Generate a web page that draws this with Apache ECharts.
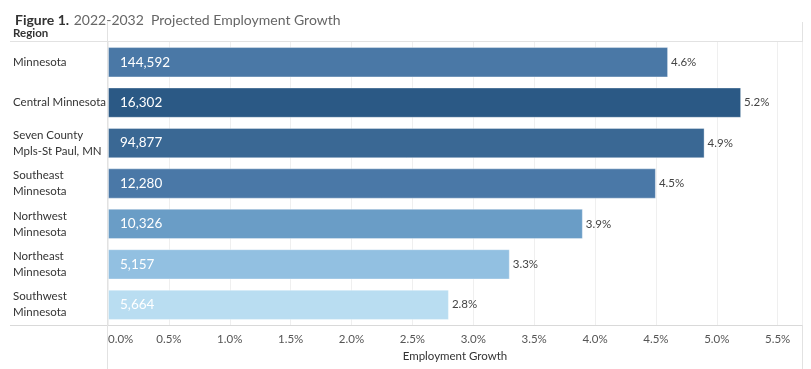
<!DOCTYPE html>
<html><head><meta charset="utf-8">
<script src="https://cdn.jsdelivr.net/npm/echarts@6/dist/echarts.min.js"></script>
<style>html,body{margin:0;padding:0;background:#fff}#c{width:811px;height:369px}</style>
</head><body><div id="c"></div>
<script>
const regions = ["Minnesota","Central Minnesota","Seven County\nMpls-St Paul, MN","Southeast\nMinnesota","Northwest\nMinnesota","Northeast\nMinnesota","Southwest\nMinnesota"];
const growthPct = [4.6, 5.2, 4.9, 4.5, 3.9, 3.3, 2.8];
const jobsAdded = ["144,592","16,302","94,877","12,280","10,326","5,157","5,664"];
const barColors = ["#4a78a6","#2b5985","#3a6894","#4a78a7","#6a9dc6","#92c0e1","#b9ddf1"];
const xTicks = [0,0.5,1,1.5,2,2.5,3,3.5,4,4.5,5,5.5];

const FONT = 'Lato, "Noto Sans", sans-serif';
const chart = echarts.init(document.getElementById('c'));
chart.setOption({
  animation:false,
  textStyle:{fontFamily:FONT},
  title:{
    left:10, top:6,
    text:'{b|Figure 1.} {n|2022-2032  Projected Employment Growth}',
    textStyle:{fontWeight:'normal',rich:{
      b:{fontFamily:FONT,fontSize:14,fontWeight:'bold',color:'#333'},
      n:{fontFamily:FONT,fontSize:14,fontWeight:'normal',color:'#666'}
    }}
  },
  grid:{left:108,right:9,top:42,bottom:44},
  xAxis:{
    type:'value', min:0, max:5.7, interval:0.5,
    name:'Employment Growth', nameLocation:'middle', nameGap:22,
    nameTextStyle:{fontFamily:FONT,fontSize:11.5,color:'#333'},
    axisLine:{show:false}, axisTick:{show:false},
    axisLabel:{fontFamily:FONT,fontSize:11.5,color:'#555',margin:8,showMaxLabel:false,
      alignMinLabel:'left',
      formatter:v=> xTicks.some(t=>Math.abs(t-v)<1e-6) ? v.toFixed(1)+'%' : ''},
    splitLine:{show:true,lineStyle:{color:'#efefef',width:1}}
  },
  yAxis:{
    type:'category', data:regions, inverse:true,
    axisLine:{show:false}, axisTick:{show:false},
    splitLine:{show:false},
    axisLabel:{align:'left',margin:95,fontFamily:FONT,fontSize:11.5,color:'#333',lineHeight:16}
  },
  series:[
    {
      type:'bar', barCategoryGap:'25%',
      data:growthPct.map((v,i)=>({value:v,itemStyle:{color:barColors[i]}})),
      itemStyle:{borderColor:'rgba(255,255,255,0.35)',borderWidth:1},
      label:{show:true,position:'insideLeft',distance:12,color:'#fff',fontFamily:FONT,fontSize:13.5,
        formatter:p=>jobsAdded[p.dataIndex]},
      z:3
    },
    {
      type:'bar', barGap:'-100%', barCategoryGap:'25%',
      data:growthPct, itemStyle:{color:'rgba(0,0,0,0)'},
      label:{show:true,position:'right',distance:3,color:'#444',fontFamily:FONT,fontSize:11.5,
        formatter:p=>p.value.toFixed(1)+'%'},
      silent:true, z:4
    }
  ],
  graphic:[
    {type:'text',left:13,top:27,style:{text:'Region',fontFamily:FONT,fontSize:11.5,fontWeight:'bold',fill:'#333'}},
    {type:'line',shape:{x1:10,y1:41.5,x2:802,y2:41.5},style:{stroke:'#e2e2e2',lineWidth:1}},
    {type:'line',shape:{x1:10,y1:325.5,x2:802,y2:325.5},style:{stroke:'#d9d9d9',lineWidth:1}},
    {type:'line',shape:{x1:107.5,y1:22,x2:107.5,y2:369},style:{stroke:'#e2e2e2',lineWidth:1}},
    {type:'line',shape:{x1:802.5,y1:22,x2:802.5,y2:369},style:{stroke:'#e2e2e2',lineWidth:1}}
  ]
});
</script></body></html>
